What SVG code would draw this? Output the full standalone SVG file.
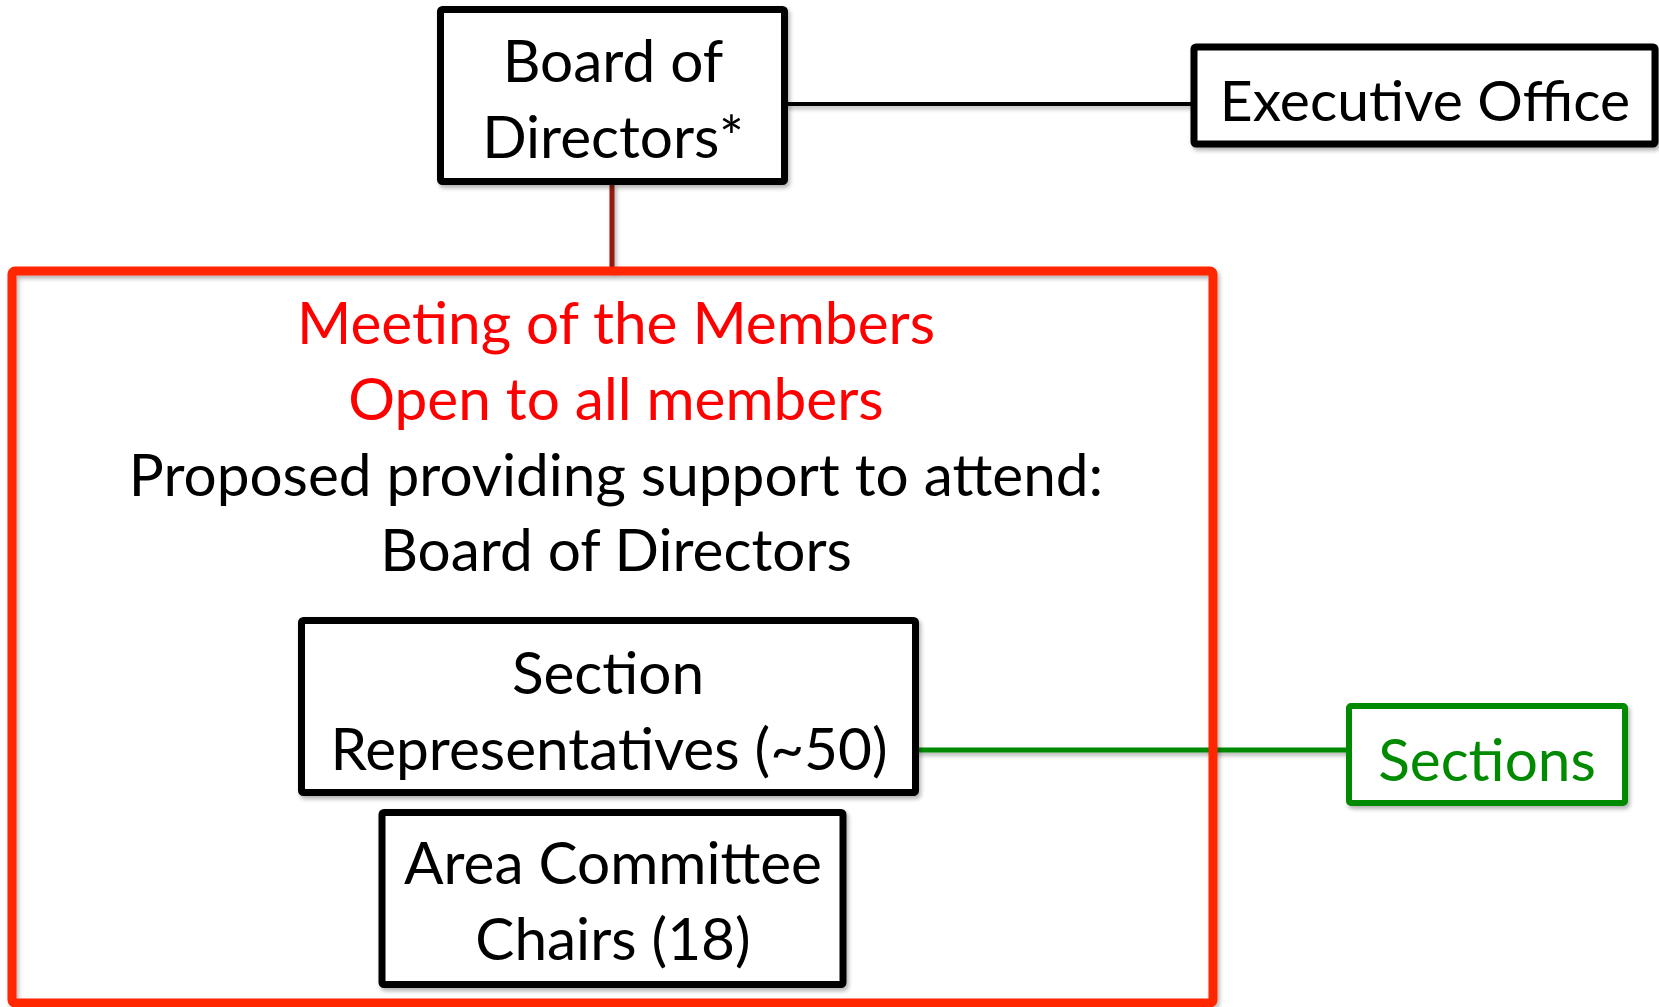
<svg xmlns="http://www.w3.org/2000/svg" width="1659" height="1007" viewBox="0 0 1659 1007">
<defs>
<filter id="sh" x="-10%" y="-10%" width="120%" height="130%">
<feDropShadow dx="2" dy="3" stdDeviation="2" flood-color="#000" flood-opacity="0.3"/>
</filter>
<style>
text{font-family:Lato,"Open Sans","Liberation Sans",sans-serif;font-size:58.5px;text-anchor:middle;fill:#000}
.box{fill:#fff;stroke:#000;stroke-width:7}
.red{fill:#ff0000}
.green{fill:#008a00}
</style>
</defs>
<rect width="1659" height="1007" fill="#fff"/>
<g id="connectors" filter="url(#sh)">
<line x1="785" y1="104" x2="1193" y2="104" stroke="#000" stroke-width="4"/>
<line x1="612" y1="184" x2="612" y2="271" stroke="#921a10" stroke-width="5"/>
<line x1="916" y1="750" x2="1349" y2="750" stroke="#008a00" stroke-width="5"/>
</g>
<g id="meeting">
<rect x="12" y="271" width="1201" height="732" rx="3" fill="none" stroke="#ff2600" stroke-width="9" filter="url(#sh)"/>
<text class="red" x="616" y="344">Meeting of the Members</text>
<text class="red" x="616" y="420">Open to all members</text>
<text x="616" y="496">Proposed providing support to attend:</text>
<text x="616" y="571">Board of Directors</text>
</g>
<g id="board">
<rect class="box" x="440.5" y="9.5" width="344" height="172" rx="2" filter="url(#sh)"/>
<text x="613" y="82">Board of</text>
<text x="613" y="158">Directors*</text>
</g>
<g id="executive">
<rect class="box" x="1194" y="47" width="461" height="97" rx="2" stroke-width="6" filter="url(#sh)"/>
<text x="1425" y="121" style="font-size:57px">Executive Office</text>
</g>
<g id="section-reps">
<rect class="box" x="301.5" y="620.5" width="614" height="172" rx="2" filter="url(#sh)"/>
<text x="608" y="694">Section</text>
<text x="609" y="770">Representatives (~50)</text>
</g>
<g id="area-chairs">
<rect class="box" x="382" y="812.5" width="461" height="172" rx="2" filter="url(#sh)"/>
<text x="613" y="884">Area Committee</text>
<text x="613" y="960">Chairs (18)</text>
</g>
<g id="sections">
<rect x="1349" y="706" width="276" height="97" rx="2" fill="#fff" stroke="#008a00" stroke-width="6" filter="url(#sh)"/>
<text class="green" x="1487" y="781">Sections</text>
</g>
</svg>
